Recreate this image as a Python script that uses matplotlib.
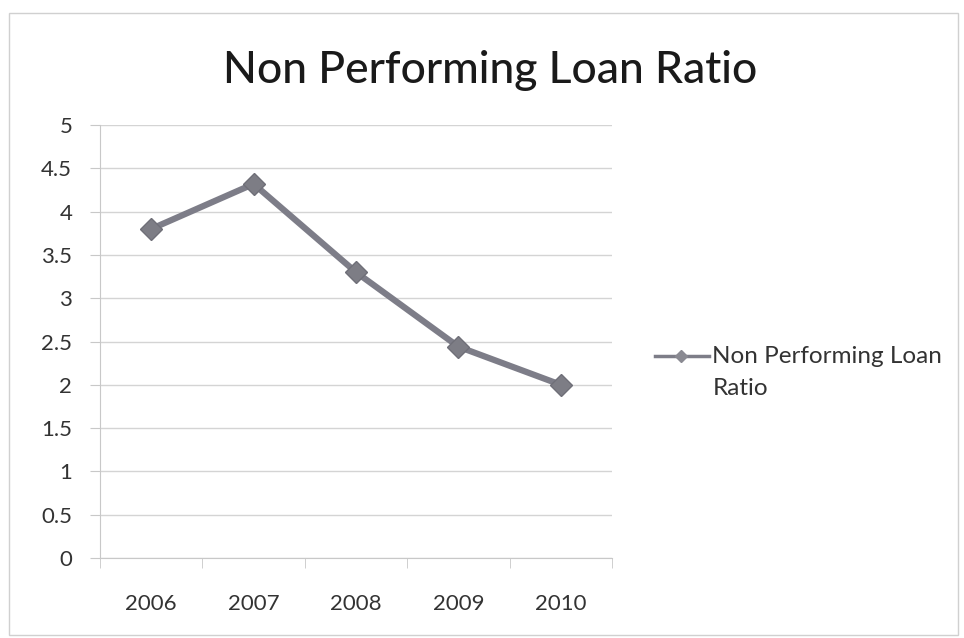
import matplotlib.pyplot as plt
from matplotlib.lines import Line2D
from matplotlib.patches import Rectangle
import numpy as np

# non-performing loan ratio by year
years = ["2006", "2007", "2008", "2009", "2010"]
npl_ratio = [3.8, 4.32, 3.3, 2.44, 2.0]
y_ticks = [0, 0.5, 1, 1.5, 2, 2.5, 3, 3.5, 4, 4.5, 5]
series_name = "Non Performing Loan\nRatio"

plt.rcParams["font.family"] = ["Lato", "DejaVu Sans"]

LINE_COLOR = "#7d7d88"

fig = plt.figure(figsize=(9.64, 6.38), dpi=100)
fig.patches.append(Rectangle((0.009, 0.005), 0.985, 0.975, transform=fig.transFigure,
                             fill=False, edgecolor="#d0d0d0", linewidth=1.0))

ax = fig.add_axes([0.1037, 0.1254, 0.5313, 0.6786])
x = np.arange(len(years))
ax.plot(x, npl_ratio, color=LINE_COLOR, linewidth=4.5, marker="D",
        markersize=11, markerfacecolor="#7d7d85", markeredgecolor="#6f6f78",
        zorder=3)

ax.set_xlim(-0.5, len(years) - 0.5)
ax.set_ylim(0, 5)
ax.set_yticks(y_ticks)
ax.set_yticklabels([f"{v:g}" for v in y_ticks])
ax.set_xticks(x)
ax.set_xticklabels(years)
ax.set_xticks(np.arange(-0.5, len(years), 1), minor=True)

ax.grid(axis="y", color="#d4d4d4", linewidth=1.0)
for side in ("top", "right"):
    ax.spines[side].set_visible(False)
ax.spines["left"].set_color("#c8c8c8")
ax.spines["bottom"].set_color("#c8c8c8")

ax.tick_params(axis="y", length=7, color="#c8c8c8", labelsize=16,
               labelcolor="#333333", pad=13)
ax.tick_params(axis="x", which="major", length=0, labelsize=16,
               labelcolor="#333333", pad=26)
ax.tick_params(axis="x", which="minor", length=7, color="#c8c8c8")

fig.text(0.508, 0.889, "Non Performing Loan Ratio", ha="center", va="center",
         fontsize=32, color="#1a1a1a", fontweight="medium")

# legend key sits beside the first line of the wrapped series name
key_y = 1 - 356 / 638
fig.add_artist(Line2D([0.679, 0.735], [key_y, key_y], transform=fig.transFigure,
                      color=LINE_COLOR, linewidth=2.5))
fig.add_artist(Line2D([0.706], [key_y], transform=fig.transFigure, marker="D",
                      markersize=6.5, color="#8a8a92", linestyle="none"))
fig.text(0.739, key_y + 0.016, series_name, ha="left", va="top", fontsize=17.5,
         color="#333333", linespacing=1.65)

fig.savefig("out.png", dpi=100)
